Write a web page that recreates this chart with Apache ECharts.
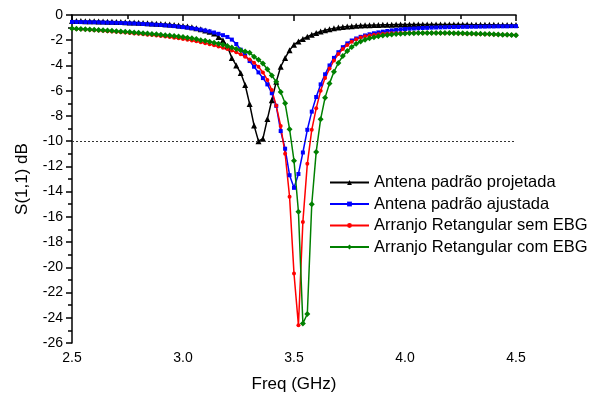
<!DOCTYPE html>
<html>
<head>
<meta charset="utf-8">
<script src="https://cdn.jsdelivr.net/npm/echarts@6/dist/echarts.min.js"></script>
<style>
  html, body { margin: 0; padding: 0; background: #fff; }
  #chart { width: 594px; height: 398px; }
</style>
</head>
<body>
<div id="chart"></div>
<script>
// frequency points (GHz)
const freq = [
  2.50, 2.52, 2.54, 2.56, 2.58, 2.60, 2.62, 2.64, 2.66, 2.68,
  2.70, 2.72, 2.74, 2.76, 2.78, 2.80, 2.82, 2.84, 2.86, 2.88,
  2.90, 2.92, 2.94, 2.96, 2.98, 3.00, 3.02, 3.04, 3.06, 3.08,
  3.10, 3.12, 3.14, 3.16, 3.18, 3.20, 3.22, 3.24, 3.26, 3.28,
  3.30, 3.32, 3.34, 3.36, 3.38, 3.40, 3.42, 3.44, 3.46, 3.48,
  3.50, 3.52, 3.54, 3.56, 3.58, 3.60, 3.62, 3.64, 3.66, 3.68,
  3.70, 3.72, 3.74, 3.76, 3.78, 3.80, 3.82, 3.84, 3.86, 3.88,
  3.90, 3.92, 3.94, 3.96, 3.98, 4.00, 4.02, 4.04, 4.06, 4.08,
  4.10, 4.12, 4.14, 4.16, 4.18, 4.20, 4.22, 4.24, 4.26, 4.28,
  4.30, 4.32, 4.34, 4.36, 4.38, 4.40, 4.42, 4.44, 4.46, 4.48,
  4.50
];

// S(1,1) dB per series
const projetada = [
  -0.47, -0.48, -0.48, -0.49, -0.50, -0.50, -0.51, -0.52, -0.53, -0.54,
  -0.55, -0.56, -0.57, -0.59, -0.60, -0.62, -0.63, -0.65, -0.67, -0.69,
  -0.71, -0.73, -0.76, -0.79, -0.83, -0.87, -0.92, -0.98, -1.05, -1.13,
  -1.22, -1.33, -1.47, -1.74, -2.00, -2.50, -3.40, -4.00, -4.60, -5.55,
  -7.05, -8.75, -10.00, -9.80, -8.25, -6.75, -5.30, -4.10, -3.40, -2.80,
  -2.35, -2.10, -1.90, -1.72, -1.56, -1.43, -1.31, -1.21, -1.13, -1.06,
  -1.00, -0.96, -0.92, -0.89, -0.86, -0.84, -0.82, -0.81, -0.80, -0.79,
  -0.78, -0.77, -0.77, -0.76, -0.76, -0.75, -0.75, -0.75, -0.75, -0.75,
  -0.75, -0.75, -0.75, -0.75, -0.75, -0.75, -0.75, -0.76, -0.76, -0.76,
  -0.77, -0.77, -0.77, -0.78, -0.78, -0.78, -0.79, -0.79, -0.79, -0.80,
  -0.80
];
const ajustada = [
  -0.55, -0.55, -0.56, -0.56, -0.57, -0.57, -0.58, -0.59, -0.60, -0.61,
  -0.62, -0.63, -0.64, -0.66, -0.67, -0.69, -0.71, -0.73, -0.75, -0.77,
  -0.79, -0.82, -0.85, -0.88, -0.92, -0.96, -1.00, -1.05, -1.10, -1.16,
  -1.23, -1.30, -1.39, -1.49, -1.60, -1.74, -1.95, -2.30, -2.75, -3.20,
  -3.65, -4.10, -4.55, -5.00, -5.50, -6.20, -7.20, -9.20, -10.60, -12.70,
  -13.70, -12.60, -10.90, -9.10, -7.66, -6.50, -5.50, -4.70, -4.00, -3.40,
  -2.95, -2.55, -2.25, -2.02, -1.86, -1.73, -1.62, -1.53, -1.45, -1.38,
  -1.32, -1.27, -1.22, -1.18, -1.14, -1.11, -1.09, -1.07, -1.05, -1.03,
  -1.02, -1.00, -0.99, -0.98, -0.97, -0.96, -0.95, -0.95, -0.94, -0.94,
  -0.93, -0.93, -0.92, -0.92, -0.91, -0.91, -0.90, -0.90, -0.90, -0.89,
  -0.89
];
const semEBG = [
  -1.07, -1.10, -1.12, -1.15, -1.17, -1.20, -1.22, -1.25, -1.28, -1.30,
  -1.33, -1.36, -1.39, -1.42, -1.46, -1.49, -1.52, -1.56, -1.59, -1.63,
  -1.67, -1.71, -1.75, -1.80, -1.85, -1.90, -1.96, -2.02, -2.09, -2.16,
  -2.23, -2.31, -2.40, -2.49, -2.59, -2.70, -2.82, -2.96, -3.12, -3.30,
  -3.52, -3.78, -4.10, -4.55, -5.15, -5.95, -7.20, -8.80, -11.00, -14.40,
  -20.50, -24.60, -16.40, -11.80, -9.10, -7.40, -6.00, -5.00, -4.25, -3.60,
  -3.10, -2.70, -2.38, -2.12, -1.92, -1.78, -1.69, -1.62, -1.56, -1.52,
  -1.49, -1.47, -1.45, -1.44, -1.43, -1.42, -1.42, -1.42, -1.42, -1.42,
  -1.43, -1.43, -1.43, -1.44, -1.44, -1.45, -1.45, -1.46, -1.47, -1.48,
  -1.49, -1.50, -1.51, -1.52, -1.53, -1.54, -1.55, -1.56, -1.57, -1.58,
  -1.60
];
const comEBG = [
  -1.07, -1.09, -1.11, -1.13, -1.15, -1.17, -1.19, -1.21, -1.23, -1.25,
  -1.28, -1.30, -1.33, -1.35, -1.38, -1.41, -1.44, -1.47, -1.50, -1.53,
  -1.56, -1.60, -1.63, -1.67, -1.71, -1.75, -1.80, -1.85, -1.90, -2.00,
  -2.05, -2.12, -2.20, -2.28, -2.36, -2.45, -2.58, -2.70, -2.80, -2.90,
  -3.00, -3.30, -3.55, -3.85, -4.30, -4.80, -5.30, -6.10, -7.00, -9.05,
  -11.55, -15.60, -24.45, -23.70, -15.00, -10.85, -8.26, -6.55, -5.42, -4.50,
  -3.80, -3.25, -2.85, -2.53, -2.28, -2.10, -1.96, -1.85, -1.76, -1.69,
  -1.63, -1.58, -1.54, -1.51, -1.48, -1.46, -1.45, -1.44, -1.43, -1.43,
  -1.42, -1.42, -1.42, -1.42, -1.43, -1.43, -1.44, -1.44, -1.45, -1.46,
  -1.47, -1.48, -1.49, -1.50, -1.51, -1.53, -1.54, -1.56, -1.57, -1.59,
  -1.61
];

const seriesNames = [
  "Antena padrão projetada",
  "Antena padrão ajustada",
  "Arranjo Retangular sem EBG",
  "Arranjo Retangular com EBG"
];

const pairs = (ys) => freq.map((f, i) => [f, ys[i]]);

const chart = echarts.init(document.getElementById("chart"));
const font = "Liberation Sans, Arial, sans-serif";

const makeSeries = (name, ys, color, symbol, size) => ({
  name: name,
  type: "line",
  data: pairs(ys),
  symbol: symbol,
  symbolSize: size,
  showSymbol: true,
  lineStyle: { color: color, width: 1.5 },
  itemStyle: { color: color },
  emphasis: { disabled: true },
});

const option = {
  animation: false,
  grid: { left: 72, right: 78, top: 15, bottom: 54 },
  legend: {
    orient: "vertical",
    left: 329,
    top: 174,
    padding: 0,
    itemWidth: 39,
    itemHeight: 6,
    itemGap: 4.5,
    textStyle: { fontFamily: font, fontSize: 16.5, color: "#000" },
    data: seriesNames,
  },
  xAxis: {
    type: "value",
    min: 2.5,
    max: 4.5,
    interval: 0.5,
    name: "Freq (GHz)",
    nameLocation: "middle",
    nameGap: 33,
    nameTextStyle: { fontFamily: font, fontSize: 17, color: "#000" },
    axisLine: { lineStyle: { color: "#000", width: 1.5 } },
    axisTick: { length: 6, lineStyle: { color: "#000", width: 1.5 } },
    minorTick: { show: true, splitNumber: 2, length: 4, lineStyle: { color: "#000", width: 1.5 } },
    splitLine: { show: false },
    axisLabel: {
      fontFamily: font, fontSize: 14, color: "#000", margin: 8,
      formatter: (v) => v.toFixed(1),
    },
  },
  yAxis: {
    type: "value",
    min: -26,
    max: 0,
    interval: 2,
    name: "S(1,1) dB",
    nameLocation: "middle",
    nameGap: 41,
    nameTextStyle: { fontFamily: font, fontSize: 17, color: "#000" },
    axisLine: { show: true, lineStyle: { color: "#000", width: 1.5 } },
    axisTick: { show: true, length: 6, lineStyle: { color: "#000", width: 1.5 } },
    minorTick: { show: true, splitNumber: 2, length: 4, lineStyle: { color: "#000", width: 1.5 } },
    splitLine: { show: false },
    axisLabel: { fontFamily: font, fontSize: 14, color: "#000", margin: 9 },
  },
  series: [
    Object.assign(makeSeries(seriesNames[0], projetada, "#000000", "triangle", 6), {
      markLine: {
        silent: true,
        symbol: "none",
        label: { show: false },
        lineStyle: { color: "#333", type: [2, 2], width: 1 },
        data: [{ yAxis: -10 }],
      },
    }),
    makeSeries(seriesNames[1], ajustada, "#0000ff", "rect", 4),
    makeSeries(seriesNames[2], semEBG, "#ff0000", "circle", 4),
    makeSeries(seriesNames[3], comEBG, "#008000", "diamond", 6),
  ],
};

chart.setOption(option);
</script>
</body>
</html>
